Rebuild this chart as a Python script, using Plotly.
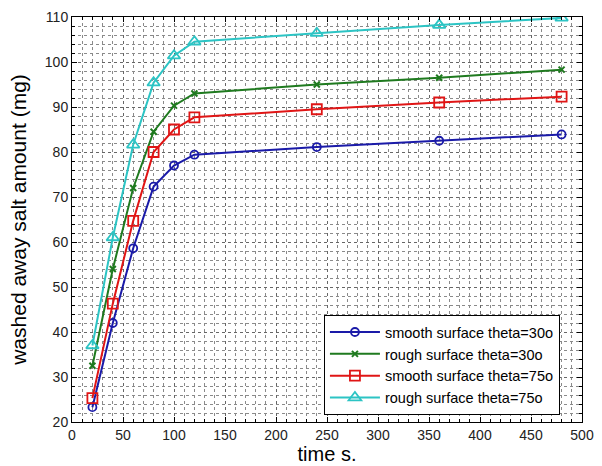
import plotly.graph_objects as go

time_s = [20, 40, 60, 80, 100, 120, 240, 360, 480]
smooth_30 = [23.3, 42.0, 58.6, 72.3, 77.0, 79.4, 81.1, 82.5, 83.9]
rough_30 = [32.5, 54.0, 72.0, 84.5, 90.3, 93.0, 95.0, 96.5, 98.3]
smooth_75 = [25.3, 46.3, 64.7, 80.0, 85.0, 87.7, 89.5, 91.0, 92.3]
rough_75 = [37.0, 61.0, 81.6, 95.4, 101.4, 104.5, 106.4, 108.2, 109.8]

series = [
    ("smooth surface theta=30o", smooth_30, "#1a1aa8", "circle-open", 8, 1.8),
    ("rough surface theta=30o", rough_30, "#1f7a1f", "x-thin-open", 6, 2),
    ("smooth surface theta=75o", smooth_75, "#e01515", "square-open", 10, 1.8),
    ("rough surface theta=75o", rough_75, "#2cc4c4", "triangle-up-open", 11, 1.8),
]

fig = go.Figure()
for name, ys, col, sym, sz, lw in series:
    fig.add_trace(go.Scatter(
        x=time_s, y=ys, name=name, mode="lines+markers",
        line=dict(color=col, width=2),
        marker=dict(symbol=sym, size=sz, color=col, line=dict(color=col, width=lw)),
    ))

tickfont = dict(family="Liberation Sans, Arial", size=14, color="#222222")
axis_common = dict(
    showline=True, linecolor="black", linewidth=1, mirror="ticks",
    ticks="inside", ticklen=5, tickcolor="black",
    showgrid=True, gridcolor="#666666", griddash="dot", gridwidth=1,
    zeroline=False, automargin=False,
    tickfont=tickfont,
)

fig.update_xaxes(
    range=[0, 500], dtick=50, tick0=0,
    minor=dict(dtick=10, showgrid=True, gridcolor="#8a8a8a", griddash="dot", gridwidth=1,
               ticks="inside", ticklen=3, tickcolor="black"),
    title=dict(text="time s.", font=dict(family="Liberation Sans, Arial", size=20, color="black"),
               standoff=5),
    **axis_common,
)
fig.update_yaxes(
    range=[20, 110], dtick=10, tick0=20,
    minor=dict(dtick=2, showgrid=True, gridcolor="#8a8a8a", griddash="dot", gridwidth=1,
               ticks="inside", ticklen=3, tickcolor="black"),
    title=dict(text="washed away salt amount (mg)",
               font=dict(family="Liberation Sans, Arial", size=21, color="black"),
               standoff=12),
    **axis_common,
)

fig.update_layout(
    width=602, height=466,
    margin=dict(l=72, r=20, t=17, b=44),
    paper_bgcolor="white", plot_bgcolor="white",
    showlegend=True,
    legend=dict(
        x=0.494, y=0.264, xanchor="left", yanchor="top",
        bgcolor="white", bordercolor="black", borderwidth=1,
        font=dict(family="Liberation Sans, Arial", size=14.5, color="black"),
        tracegroupgap=0, itemwidth=50,
    ),
)

fig.write_html("out.html", config={"displayModeBar": False},
               post_script="document.body.style.margin='0';")
